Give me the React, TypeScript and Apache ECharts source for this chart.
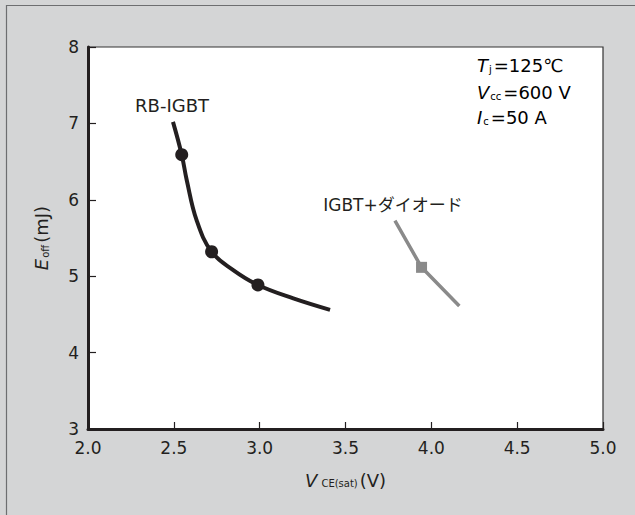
import React, { useEffect, useRef } from "react";
import * as echarts from "echarts";

const xTickRange = { min: 2.0, max: 5.0, interval: 0.5 };
const yTickRange = { min: 3, max: 8, interval: 1 };

const rbCurve: [number, number][] = [
  [2.495, 7.02],
  [2.546, 6.59],
  [2.575, 6.26],
  [2.633, 5.73],
  [2.72, 5.32],
  [2.846, 5.08],
  [2.99, 4.885],
  [3.196, 4.71],
  [3.41, 4.56],
];
const rbMarkers: [number, number][] = [
  [2.546, 6.59],
  [2.72, 5.32],
  [2.99, 4.885],
];
const diodeCurve: [number, number][] = [
  [3.788, 5.727],
  [3.943, 5.116],
  [4.163, 4.61],
];
const diodeMarkers: [number, number][] = [[3.943, 5.116]];

const seriesLabels = ["RB-IGBT", "IGBT+ダイオード"];

const FONT = "'DejaVu Sans', 'Noto Sans CJK JP', sans-serif";
const TXT = "#231f20";

export default function App() {
  const ref = useRef<HTMLDivElement>(null);
  useEffect(() => {
    if (!ref.current) return;
    const chart = echarts.init(ref.current, undefined, { renderer: "svg" });
    const subRich = {
      i: { fontStyle: "italic", fontSize: 18, fontFamily: FONT, color: TXT },
      s: { fontSize: 10, fontFamily: FONT, color: TXT, padding: [8, 2, 0, 1] },
      n: { fontSize: 18, fontFamily: FONT, color: TXT },
    };
    chart.setOption({
      animation: false,
      backgroundColor: "#d4d5d6",
      textStyle: { fontFamily: FONT },
      grid: {
        left: 88,
        right: 32,
        top: 47,
        bottom: 86,
        show: true,
        backgroundColor: "#ffffff",
        borderColor: "#333333",
        borderWidth: 1.2,
      },
      xAxis: {
        type: "value",
        min: xTickRange.min,
        max: xTickRange.max,
        interval: xTickRange.interval,
        axisLine: { show: true, onZero: false, lineStyle: { color: TXT, width: 3 } },
        axisTick: { show: true, inside: true, length: 7, lineStyle: { color: TXT, width: 1.2 } },
        splitLine: { show: false },
        axisLabel: {
          color: TXT,
          fontSize: 17,
          fontFamily: FONT,
          margin: 10,
          formatter: (v: number) => v.toFixed(1),
        },
        name: "{i|V}{s| CE(sat)}{n|(V)}",
        nameLocation: "middle",
        nameGap: 42,
        nameTextStyle: { rich: subRich },
      },
      yAxis: {
        type: "value",
        min: yTickRange.min,
        max: yTickRange.max,
        interval: yTickRange.interval,
        axisLine: { show: true, onZero: false, lineStyle: { color: TXT, width: 3 } },
        axisTick: { show: true, inside: true, length: 8, lineStyle: { color: TXT, width: 1.2 } },
        splitLine: { show: false },
        axisLabel: { color: TXT, fontSize: 17, fontFamily: FONT, margin: 9 },
        name: "{i|E}{s|off}{n|(mJ)}",
        nameLocation: "middle",
        nameRotate: 90,
        nameGap: 38,
        nameTextStyle: { rich: subRich },
      },
      series: [
        {
          name: seriesLabels[0],
          type: "line",
          data: rbCurve,
          smooth: 0.4,
          showSymbol: false,
          lineStyle: { color: TXT, width: 4 },
          z: 2,
        },
        {
          type: "scatter",
          data: rbMarkers,
          symbol: "circle",
          symbolSize: 13,
          itemStyle: { color: TXT, opacity: 1 },
          z: 3,
        },
        {
          name: seriesLabels[1],
          type: "line",
          data: diodeCurve,
          showSymbol: false,
          lineStyle: { color: "#8a8a8a", width: 3.5 },
          z: 2,
        },
        {
          type: "scatter",
          data: diodeMarkers,
          symbol: "rect",
          symbolSize: 11,
          itemStyle: { color: "#8a8a8a", opacity: 1 },
          z: 3,
        },
      ],
      graphic: [
        {
          type: "line",
          shape: { x1: 6, y1: 5.5, x2: 635, y2: 5.5 },
          style: { stroke: "#6d6e70", lineWidth: 1.2 },
        },
        {
          type: "line",
          shape: { x1: 6.5, y1: 5, x2: 6.5, y2: 515 },
          style: { stroke: "#6d6e70", lineWidth: 1.2 },
        },
        {
          type: "text",
          x: 172,
          y: 105,
          style: {
            text: seriesLabels[0],
            fill: TXT,
            fontSize: 18,
            fontFamily: FONT,
            align: "center",
            verticalAlign: "middle",
          },
        },
        {
          type: "text",
          x: 393,
          y: 205,
          style: {
            text: seriesLabels[1],
            fill: TXT,
            fontSize: 17,
            fontFamily: FONT,
            align: "center",
            verticalAlign: "middle",
          },
        },
        {
          type: "text",
          x: 477,
          y: 65,
          style: {
            text: "{i|T}{s|j}{n|=125℃}",
            rich: subRich,
            verticalAlign: "middle",
          },
        },
        {
          type: "text",
          x: 477,
          y: 92,
          style: {
            text: "{i|V}{s|cc}{n|=600 V}",
            rich: subRich,
            verticalAlign: "middle",
          },
        },
        {
          type: "text",
          x: 477,
          y: 117,
          style: {
            text: "{i|I}{s|c}{n|=50 A}",
            rich: subRich,
            verticalAlign: "middle",
          },
        },
      ],
    });
    return () => chart.dispose();
  }, []);
  return (
    <div
      ref={ref}
      style={{ position: "absolute", left: 0, top: 0, width: 635, height: 515 }}
    />
  );
}
